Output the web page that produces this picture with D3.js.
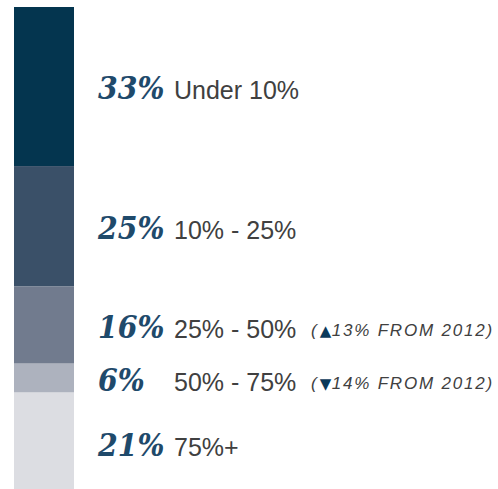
<!DOCTYPE html>
<html>
<head>
<meta charset="utf-8">
<script src="https://cdn.jsdelivr.net/npm/d3@7"></script>
<style>
  html, body { margin: 0; padding: 0; background: #fff; }
  svg { display: block; }
</style>
</head>
<body>
<svg id="chart"></svg>
<script>
const width = 498;
const height = 489;

// share of respondents per bucket (top to bottom)
const shares = [33, 25, 16, 6, 21];
const buckets = ["Under 10%", "10% - 25%", "25% - 50%", "50% - 75%", "75%+"];
const changes = [null, null, "\u25B213% FROM 2012", "\u25BC14% FROM 2012", null];
const colors = ["#04354f", "#3a5068", "#717b8e", "#adb2be", "#dcdde2"];

const svg = d3.select("#chart")
    .attr("width", width)
    .attr("height", height);

// stack the shares into cumulative start/end
let acc = 0;
const data = shares.map((v, i) => {
    const d = { value: v, start: acc, end: acc + v, bucket: buckets[i], change: changes[i], color: colors[i] };
    acc += v;
    return d;
});

const y = d3.scaleLinear()
    .domain([0, 100])
    .range([7, 489]);

svg.selectAll("rect.seg")
    .data(data)
    .enter()
    .append("rect")
    .attr("class", "seg")
    .attr("x", 14)
    .attr("width", 60)
    .attr("y", d => y(d.start))
    .attr("height", d => y(d.end) - y(d.start))
    .attr("fill", d => d.color);

const mid = d => (y(d.start) + y(d.end)) / 2 + 12.5;

svg.selectAll("text.pct")
    .data(data)
    .enter()
    .append("text")
    .attr("class", "pct")
    .attr("x", 98)
    .attr("y", mid)
    .attr("font-family", "'DejaVu Serif Condensed', 'DejaVu Serif', serif")
    .attr("font-weight", "bold")
    .attr("font-style", "italic")
    .attr("font-size", 31.5)
    .attr("fill", "#1f4a6b")
    .text(d => d.value + "%");

svg.selectAll("text.bucket")
    .data(data)
    .enter()
    .append("text")
    .attr("class", "bucket")
    .attr("x", 174)
    .attr("y", mid)
    .attr("font-family", "'Liberation Sans', Arial, sans-serif")
    .attr("font-size", 25)
    .attr("fill", "#404040")
    .text(d => d.bucket);

const notes = svg.selectAll("text.note")
    .data(data.filter(d => d.change))
    .enter()
    .append("text")
    .attr("class", "note")
    .attr("x", 311)
    .attr("y", d => mid(d) - 1.5)
    .attr("font-family", "'Liberation Sans', Arial, sans-serif")
    .attr("font-style", "italic")
    .attr("font-size", 17)
    .attr("letter-spacing", 1.8)
    .attr("fill", "#404040");

notes.append("tspan").attr("letter-spacing", 3).text("(");
notes.append("tspan")
    .attr("fill", "#0b3a5a")
    .attr("font-style", "normal")
    .attr("font-family", "'DejaVu Sans', sans-serif")
    .attr("font-size", 15)
    .attr("letter-spacing", 0.5)
    .text(d => d.change[0]);
notes.append("tspan").text(d => d.change.slice(1) + ")");
</script>
</body>
</html>
